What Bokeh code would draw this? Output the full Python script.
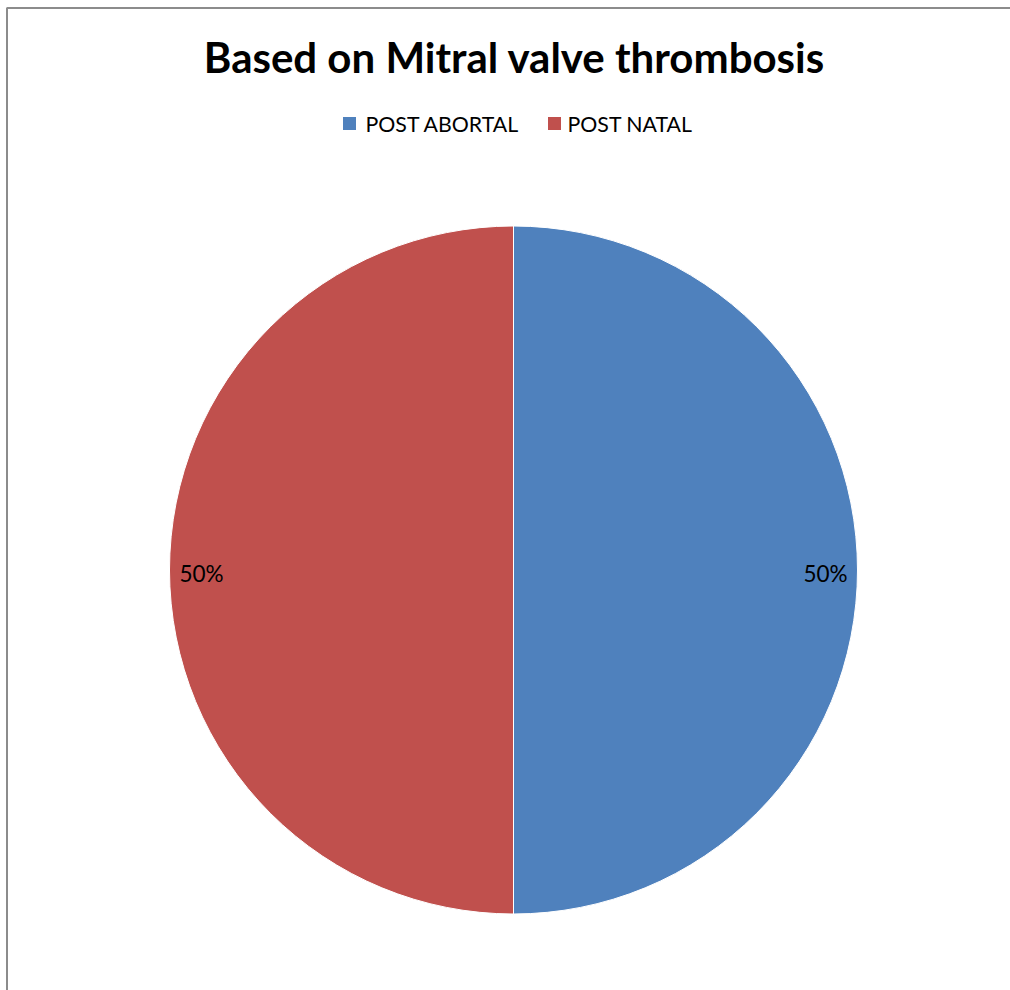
import math
from bokeh.plotting import figure
from bokeh.models import ColumnDataSource, Range1d
from bokeh.core.properties import value
from bokeh.embed import file_html
from bokeh.resources import INLINE

# ---- data ----
title_text = "Based on Mitral valve thrombosis"
categories = ["POST ABORTAL", "POST NATAL"]
values = [1, 1]
colors = ["#4F81BD", "#C0504D"]

W, H = 1010, 990
FONT = "Lato"

total = float(sum(values))
fractions = [v / total for v in values]
starts, ends, mids, labels = [], [], [], []
cum = 0.0
for f in fractions:
    s = math.pi / 2 - cum * 2 * math.pi
    e = math.pi / 2 - (cum + f) * 2 * math.pi
    starts.append(s)
    ends.append(e)
    mids.append((s + e) / 2)
    labels.append(f"{round(f * 100)}%")
    cum += f

cx, cy, r = 513.0, H - 569.5, 344.0

p = figure(width=W, height=H, x_range=Range1d(0, W), y_range=Range1d(0, H),
           output_backend="svg", toolbar_location=None, min_border=0)
p.axis.visible = False
p.grid.visible = False
p.outline_line_color = None
p.background_fill_color = "white"
p.border_fill_color = "white"

# chart-area border (left and top visible)
p.line(x=[6.5, 6.5, W], y=[0, H - 7.5, H - 7.5], line_color="#8c8c8c", line_width=2)

src = ColumnDataSource(dict(start=starts, end=ends, color=colors, cat=categories))
p.wedge(x=cx, y=cy, radius=r, start_angle="start", end_angle="end",
        direction="clock", fill_color="color", line_color="white", line_width=1,
        source=src)

# data labels
lr = 0.907 * r
lx = [cx + lr * math.cos(m) for m in mids]
ly = [cy + lr * math.sin(m) - 3 for m in mids]
p.text(x=lx, y=ly, text=labels, text_font=value(FONT), text_font_size="22.5px",
       text_color="black", text_align="center", text_baseline="middle")

# title
p.text(x=[514], y=[H - 56], text=[title_text], text_font=value(FONT),
       text_font_size="42px", text_font_style="bold", text_color="black",
       text_align="center", text_baseline="middle")

# legend
leg_y = H - 123
sq_x = [349, 554]
txt_x = [365, 567]
p.rect(x=sq_x, y=[leg_y] * 2, width=13, height=13, fill_color=colors, line_color=None)
p.text(x=txt_x, y=[leg_y] * 2, text=categories, text_font=value(FONT),
       text_font_size="21.3px", text_color="black", text_align="left",
       text_baseline="middle")

open("out.html", "w").write(file_html(p, INLINE))
